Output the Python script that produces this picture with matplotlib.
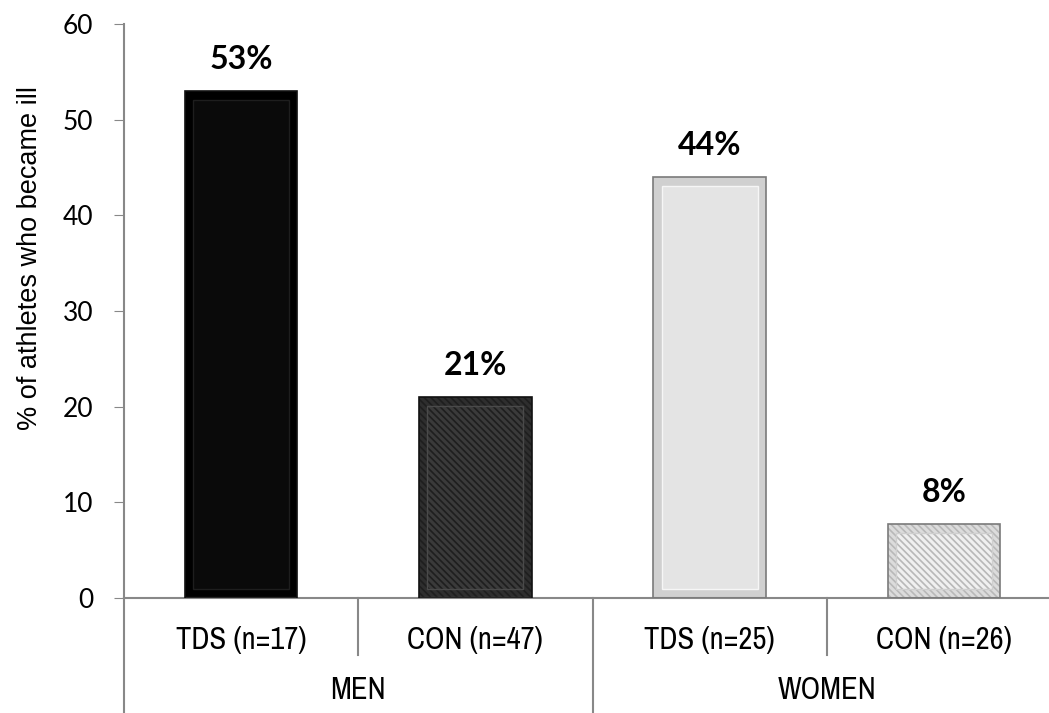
import numpy as np
import matplotlib.pyplot as plt
from matplotlib.lines import Line2D
from matplotlib import font_manager as fm

# Datos del grafico
categorias = ['TDS (n=17)', 'CON (n=47)', 'TDS (n=25)', 'CON (n=26)']
grupos = ['MEN', 'WOMEN']
valores = [53, 21, 44, 7.7]
etiquetas = ['53%', '21%', '44%', '8%']

# Estilo de cada barra
relleno = ['#0a0a0a', '#3a3a3a', '#e4e4e4', '#f0f0f0']
marco = ['#000000', '#2e2e2e', '#d0d0d0', '#dcdcdc']
borde_int = ['#1e1e1e', '#4a4a4a', '#f6f6f6', '#cfcfcf']
tramas = [None, '\\\\\\\\\\', None, '\\\\\\\\\\']
color_trama = ['#000000', '#1e1e1e', '#cccccc', '#b8b8b8']

plt.rcParams['hatch.linewidth'] = 1.2

# Buscar una fuente estrecha (tipo Arial Narrow) y una Arial normal
narrow = None
regular = None
for f in fm.fontManager.ttflist:
    normal = f.weight in (400, 'normal', 'regular') and f.style == 'normal'
    if narrow is None and 'Narrow' in f.name and normal:
        narrow = fm.FontProperties(fname=f.fname)
    if regular is None and f.name == 'Liberation Sans' and normal \
            and 'Narrow' not in f.fname:
        regular = fm.FontProperties(fname=f.fname)
if narrow is None:
    narrow = fm.FontProperties(family='DejaVu Sans Condensed')
if regular is None:
    regular = fm.FontProperties(family='DejaVu Sans')

fig = plt.figure(figsize=(10.49, 7.13), dpi=100)
W, H = 1049, 713
x0, x1, y0, y1 = 124, 1061, 598, 24
ax = fig.add_axes([x0 / W, (H - y0) / H, (x1 - x0) / W, (y0 - y1) / H])

x = np.arange(len(categorias))
ancho = 0.48
dx, dy = 0.035, 0.9

for i in range(len(valores)):
    ax.bar(x[i], valores[i], width=ancho, color=marco[i],
           edgecolor=color_trama[i], hatch=tramas[i], linewidth=0, zorder=2)
    ax.bar(x[i], valores[i], width=ancho, facecolor='none',
           edgecolor='#7a7a7a' if i >= 2 else '#111111', linewidth=1.2, zorder=4)
    ax.bar(x[i], valores[i] - 2 * dy, bottom=dy, width=ancho - 2 * dx,
           color=relleno[i], edgecolor=color_trama[i], hatch=tramas[i],
           linewidth=0, zorder=3)
    ax.bar(x[i], valores[i] - 2 * dy, bottom=dy, width=ancho - 2 * dx,
           facecolor='none', edgecolor=borde_int[i], linewidth=1.0, zorder=4)
    ax.text(x[i], valores[i] + 2.3, etiquetas[i], ha='center', va='baseline',
            fontsize=23, fontweight='bold', family='Lato')

ax.set_xlim(-0.5, 3.5)
ax.set_ylim(0, 60)
ax.set_yticks(range(0, 61, 10))
ax.tick_params(axis='y', direction='out', length=7, color='#888888', pad=15)
for lab in ax.get_yticklabels():
    lab.set_family('Lato')
    lab.set_fontsize(19)
ax.set_xticks([])
ax.set_ylabel('% of athletes who became ill', fontproperties=regular)
ax.yaxis.label.set_fontsize(19.5)
ax.yaxis.set_label_coords(-0.086, 0.592)

for s in ['top', 'right']:
    ax.spines[s].set_visible(False)
for s in ['left', 'bottom']:
    ax.spines[s].set_color('#888888')
    ax.spines[s].set_linewidth(1.5)

tr = ax.get_xaxis_transform()
for i, c in enumerate(categorias):
    ax.text(x[i], -0.073, c, transform=tr, ha='center', va='center',
            fontproperties=narrow, fontsize=22)
for g, nombre in enumerate(grupos):
    ax.text(g * 2 + 0.5, -0.16, nombre, transform=tr, ha='center', va='center',
            fontproperties=narrow, fontsize=22)

# Lineas separadoras del eje de categorias
for pos, largo in [(-0.5, -0.21), (0.5, -0.1), (1.5, -0.21), (2.5, -0.1)]:
    ax.add_line(Line2D([pos, pos], [0, largo], transform=tr, color='#888888',
                       linewidth=1.5, clip_on=False))

fig.savefig('out.png', dpi=100)
